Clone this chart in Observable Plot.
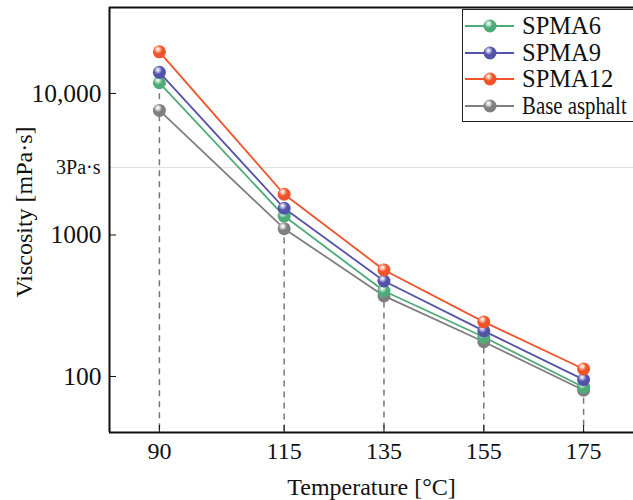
<!DOCTYPE html>
<html><head><meta charset="utf-8">
<script src="https://cdn.jsdelivr.net/npm/d3@7"></script>
<script src="https://cdn.jsdelivr.net/npm/@observablehq/plot@0.6"></script>
<style>
body{margin:0;background:#fff;}
#wrap{position:relative;width:633px;height:500px;overflow:hidden;font-family:"Liberation Serif","Times New Roman",serif;}
#legend{position:absolute;left:462px;top:9px;width:200px;height:111px;border:1.5px solid #222;background:#fff;}
.li{position:absolute;left:0;height:26px;display:flex;align-items:center;font-size:24.5px;color:#111;white-space:nowrap;}
.li svg{margin-left:2px;margin-right:8px;flex:none;}
.li span{display:inline-block;transform-origin:left center;}
</style></head>
<body><div id="wrap"><div id="legend"></div></div>
<script>
const temps = [90, 115, 135, 155, 175];
const seriesNames = ["SPMA6", "SPMA9", "SPMA12", "Base asphalt"];
const spma6 = [11900, 1360, 402, 190, 84];
const spma9 = [14100, 1545, 473, 210, 95];
const spma12 = [19700, 1940, 566, 243, 113];
const base = [7590, 1108, 371, 176, 80];
const colors = ["#4dab78", "#5353a8", "#f0532a", "#7f7f7f"];
const highlights = ["#c8ecd6", "#c9c9f0", "#ffd0bd", "#e6e6e6"];
const yTicks = [100, 1000, 10000];
const yTickLabels = ["100", "1000", "10,000"];
const refLevel = [3000];
const refLabel = "3Pa·s";
const xLabel = "Temperature [°C]";
const yLabel = ["Viscosity [mPa·s]"];
const xDomain = [80, 185];
const yDomain = [40.2, 40500];

const allSeries = [spma6, spma9, spma12, base];
const data = [];
seriesNames.forEach((s, i) => temps.forEach((t, j) => data.push({series: s, idx: i, t, v: allSeries[i][j]})));
const dropData = temps.map((t, j) => ({t, top: spma6[j]}));
const order = [3, 0, 1, 2];

const marks = [
  Plot.gridY(refLevel, {stroke: "#ccc", strokeOpacity: 0.6, strokeWidth: 1}),
  Plot.ruleX(dropData, {x: "t", y1: "top", y2: yDomain[0], stroke: "#777", strokeWidth: 1.5, strokeDasharray: "6,5"}),
  Plot.axisX({ticks: temps, tickSize: -7, tickPadding: 16, fontSize: 24, label: xLabel, labelAnchor: "center", labelOffset: 62, labelArrow: "none"}),
  Plot.axisY({ticks: yTicks, tickFormat: (d) => yTickLabels[yTicks.indexOf(d)], tickSize: -7, tickPadding: 15, fontSize: 25.5, label: null}),
  Plot.axisY({ticks: refLevel, tickFormat: () => refLabel, tickSize: 0, tickPadding: 9, fontSize: 20, label: null}),
  Plot.text(yLabel, {text: d => d, frameAnchor: "left", textAnchor: "middle", lineAnchor: "middle", rotate: -90, dx: -85, dy: -8, fontSize: 24, fill: "#111"}),
  Plot.ruleX([xDomain[0]], {stroke: "#111", strokeWidth: 2}),
  Plot.ruleY([yDomain[0]], {stroke: "#111", strokeWidth: 2}),
  Plot.ruleY([yDomain[1]], {stroke: "#111", strokeWidth: 2}),
];
order.forEach(i => {
  const d = data.filter(r => r.idx === i);
  marks.push(Plot.line(d, {x: "t", y: "v", stroke: colors[i], strokeWidth: 1.8}));
});
order.forEach(i => {
  const d = data.filter(r => r.idx === i);
  marks.push(Plot.dot(d, {x: "t", y: "v", r: 6.5, fill: `url(#grad${i})`, stroke: "none"}));
});

const chart = Plot.plot({
  width: 633, height: 500,
  marginLeft: 109, marginRight: 0, marginTop: 7, marginBottom: 68,
  style: {fontFamily: "'Liberation Serif','Times New Roman',serif", color: "#111", background: "#fff", overflow: "visible"},
  x: {domain: xDomain},
  y: {type: "log", domain: yDomain},
  marks
});
const ns = "http://www.w3.org/2000/svg";
const defs = document.createElementNS(ns, "defs");
colors.forEach((c, i) => {
  defs.innerHTML += `<radialGradient id="grad${i}" cx="0.4" cy="0.35" r="0.65" fx="0.38" fy="0.3">
    <stop offset="0" stop-color="#fff"/><stop offset="0.18" stop-color="${highlights[i]}"/><stop offset="0.5" stop-color="${c}"/><stop offset="1" stop-color="${c}"/></radialGradient>`;
});
chart.insertBefore(defs, chart.firstChild);
document.getElementById("wrap").prepend(chart);

const legend = document.getElementById("legend");
seriesNames.forEach((s, i) => {
  const div = document.createElement("div");
  div.className = "li";
  div.style.top = (3 + i * 26.5) + "px";
  const squeeze = s.length > 8 ? "transform:scaleX(0.85)" : "";
  div.innerHTML = `<svg width="49" height="16"><defs><radialGradient id="lg${i}" cx="0.4" cy="0.35" r="0.65" fx="0.38" fy="0.3"><stop offset="0" stop-color="#fff"/><stop offset="0.18" stop-color="${highlights[i]}"/><stop offset="0.5" stop-color="${colors[i]}"/><stop offset="1" stop-color="${colors[i]}"/></radialGradient></defs><line x1="0" x2="49" y1="8" y2="8" stroke="${colors[i]}" stroke-width="1.8"/><circle cx="25" cy="8" r="6.5" fill="url(#lg${i})"/></svg><span style="${squeeze}">${s}</span>`;
  legend.appendChild(div);
});
</script></body></html>
